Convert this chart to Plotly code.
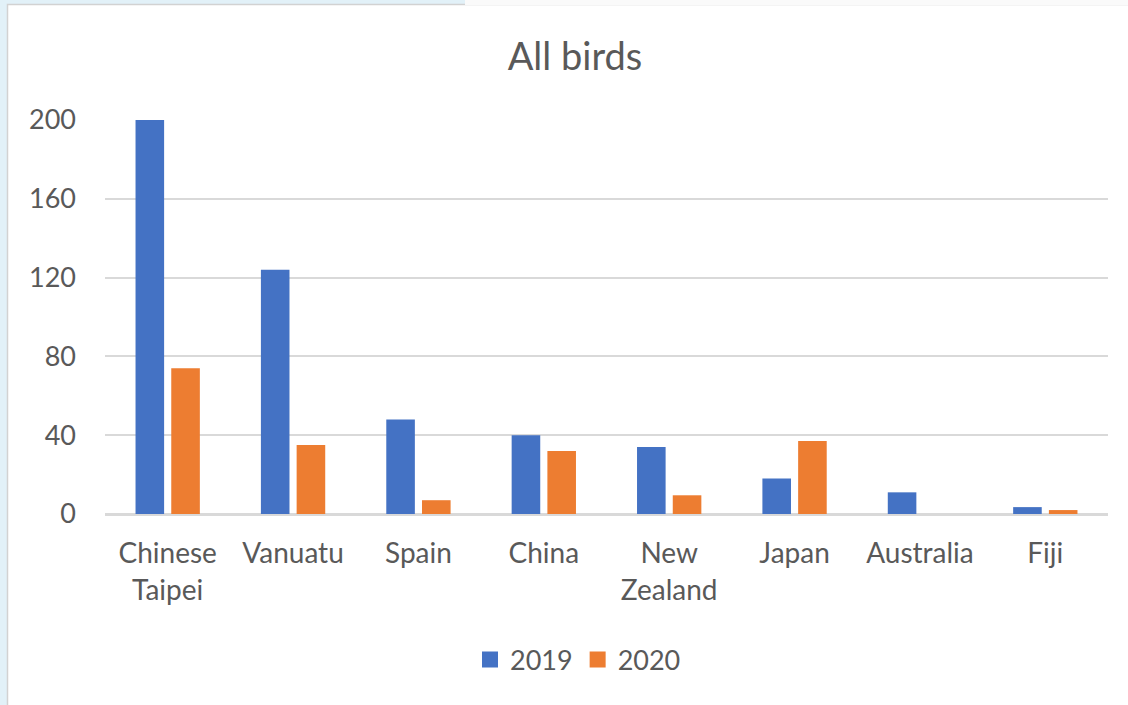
import plotly.graph_objects as go

countries = ['Chinese<br>Taipei', 'Vanuatu', 'Spain', 'China', 'New<br>Zealand', 'Japan', 'Australia', 'Fiji']
birds_2019 = [200, 124, 48, 40, 34, 18, 11, 3.5]
birds_2020 = [74, 35, 7, 32, 9.5, 37, 0, 2]
y_ticks = [0, 40, 80, 120, 160, 200]

blue = '#4472C4'
orange = '#ED7D31'
text_col = '#595959'
grid_col = '#D9D9D9'

# plot area in pixels, used to place the frame around the chart
W, H = 1128, 705
left, right, top, bottom = 105, 20, 120, 191
pw = W - left - right
ph = H - top - bottom

def px_x(x):
    return (x - left) / pw

def px_y(y):
    return (H - bottom - y) / ph

fig = go.Figure()
fig.add_trace(go.Bar(
    x = countries, y = birds_2019, name = '2019',
    marker = dict(color = blue, line = dict(width = 0)),
    showlegend = False
))
fig.add_trace(go.Bar(
    x = countries, y = birds_2020, name = '2020',
    marker = dict(color = orange, line = dict(width = 0)),
    showlegend = False
))
# legend entries with square swatches
for name, col in [('2019', blue), ('2020', orange)]:
    fig.add_trace(go.Scatter(
        x = [None], y = [None], name = name, mode = 'markers',
        marker = dict(symbol = 'square', size = 16, color = col)
    ))

fig.update_layout(
    width = W, height = H,
    margin = dict(l = left, r = right, t = top, b = bottom),
    paper_bgcolor = '#E2F1F8',
    plot_bgcolor = 'rgba(0,0,0,0)',
    font = dict(family = 'Lato, Open Sans, sans-serif', color = text_col, size = 27),
    title = dict(
        text = 'All birds', x = 575 / W, xanchor = 'center',
        y = 1 - 57 / H, yanchor = 'middle',
        font = dict(size = 38, color = text_col)
    ),
    barmode = 'group',
    bargap = 0.43,
    bargroupgap = 0.2,
    legend = dict(
        orientation = 'h', x = px_x(578), xanchor = 'center',
        y = px_y(660), yanchor = 'middle',
        font = dict(size = 27, color = text_col),
        bgcolor = 'rgba(0,0,0,0)', itemwidth = 30
    ),
    shapes = [
        dict(type = 'rect', xref = 'paper', yref = 'paper', layer = 'below',
             x0 = px_x(7.5), x1 = px_x(W + 5), y0 = px_y(H + 5), y1 = px_y(4.5),
             fillcolor = 'white', line = dict(color = '#D2D2D2', width = 1.5)),
        dict(type = 'rect', xref = 'paper', yref = 'paper', layer = 'below',
             x0 = px_x(465), x1 = px_x(W + 5), y0 = px_y(5), y1 = px_y(-2),
             fillcolor = '#FAFAFA', line = dict(width = 0)),
    ],
    xaxis = dict(
        showgrid = False, showline = True, linecolor = grid_col, linewidth = 1.5,
        ticks = '', ticklabelstandoff = 14,
        tickfont = dict(size = 28, color = text_col)
    ),
    yaxis = dict(
        range = [0, 200], tickvals = y_ticks, showgrid = True,
        gridcolor = grid_col, gridwidth = 1.5,
        zeroline = True, zerolinecolor = grid_col, zerolinewidth = 1.5,
        showline = False, ticks = '', ticklabelstandoff = 28,
        tickfont = dict(size = 27, color = text_col)
    )
)

fig.write_html('out.html', config = {'displayModeBar': False},
               post_script = "document.body.style.margin = '0';")
